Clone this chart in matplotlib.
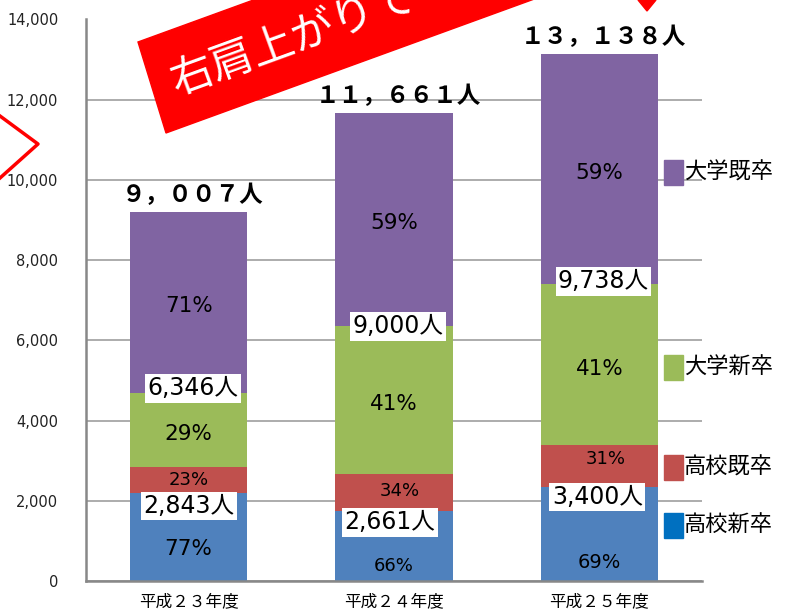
import matplotlib
matplotlib.use('Agg')
import matplotlib.pyplot as plt
from matplotlib.patches import Polygon, Rectangle
from matplotlib.lines import Line2D
from matplotlib.ticker import FuncFormatter

plt.rcParams['font.family'] = ['Noto Sans CJK JP', 'DejaVu Sans']
LAT = ['DejaVu Sans', 'Noto Sans CJK JP']   # wide latin digits, CJK fallback for 人

# data
categories = ['平成２３年度', '平成２４年度', '平成２５年度']
hs_new = [2189, 1756, 2346]       # 高校新卒
hs_grad = [654, 905, 1054]        # 高校既卒
univ_new = [1840, 3690, 3993]     # 大学新卒
univ_grad = [4506, 5310, 5745]    # 大学既卒
pct_hs_new = ['77%', '66%', '69%']
pct_hs_grad = ['23%', '34%', '31%']
pct_univ_new = ['29%', '41%', '41%']
pct_univ_grad = ['71%', '59%', '59%']
hs_total_labels = ['2,843人', '2,661人', '3,400人']
univ_total_labels = ['6,346人', '9,000人', '9,738人']
total_labels = ['９，００７人', '１１，６６１人', '１３，１３８人']

c_blue = '#4F81BD'
c_red = '#C0504D'
c_green = '#9BBB59'
c_purple = '#8064A2'

fig = plt.figure(figsize=(7.92, 6.14), dpi=100)
ax = fig.add_axes([86/792, 1-581/614, 616/792, 561.5/614])

x = list(range(len(categories)))
w = 0.57
b1 = hs_new
b2 = [a+b for a, b in zip(b1, hs_grad)]
b3 = [a+b for a, b in zip(b2, univ_new)]
tops = [a+b for a, b in zip(b3, univ_grad)]

ax.bar(x, hs_new, w, color=c_blue, zorder=3)
ax.bar(x, hs_grad, w, bottom=b1, color=c_red, zorder=3)
ax.bar(x, univ_new, w, bottom=b2, color=c_green, zorder=3)
ax.bar(x, univ_grad, w, bottom=b3, color=c_purple, zorder=3)

ax.set_xlim(-0.5, 2.5)
ax.set_ylim(0, 14000)
ax.set_yticks(range(0, 14001, 2000))
ax.yaxis.set_major_formatter(FuncFormatter(lambda v, p: f'{int(v):,}'))
ax.set_xticks(x)
ax.set_xticklabels(categories, fontsize=12)
for t in ax.get_yticklabels():
    t.set_family(LAT)
ax.tick_params(axis='y', length=0, pad=20, labelsize=10.5, labelcolor='#222222')
ax.tick_params(axis='x', length=0, pad=9)
ax.grid(axis='y', color='#A6A6A6', linewidth=1.3, zorder=0)
for s in ['top', 'right']:
    ax.spines[s].set_visible(False)
for s in ['left', 'bottom']:
    ax.spines[s].set_color('#888888')
    ax.spines[s].set_linewidth(1.8)
    ax.spines[s].set_zorder(4)

# percentage labels
pct_blue_y = [800, 370, 450]
pct_blue_fs = [15.5, 13, 14]
pct_red_dy = [0, 30, 160]
pct_red_fs = [13, 13, 13]
for i in x:
    ax.text(i, pct_blue_y[i], pct_hs_new[i], ha='center', va='center',
            fontsize=pct_blue_fs[i], family=LAT, zorder=5)
    ax.text(i + (0.03 if i else 0), b1[i] + hs_grad[i]/2 + pct_red_dy[i], pct_hs_grad[i],
            ha='center', va='center', fontsize=pct_red_fs[i], family=LAT, zorder=5)
    ax.text(i, b2[i] + univ_new[i]/2 - 100, pct_univ_new[i], ha='center', va='center',
            fontsize=15.5, family=LAT, zorder=5)
    ax.text(i, b3[i] + univ_grad[i]/2 - 90, pct_univ_grad[i], ha='center', va='center',
            fontsize=15.5, family=LAT, zorder=5)

# boxed subtotal labels
hs_dy = [-320, -290, -250]
univ_dy = [125, 0, 80]
hs_dx = [0, -0.02, -0.01]
for i in x:
    ax.text(i + hs_dx[i], b2[i] - hs_grad[i] + hs_dy[i], hs_total_labels[i],
            ha='center', va='center', fontsize=17, family=LAT, zorder=6,
            bbox=dict(boxstyle='square,pad=0.1', fc='white', ec='none'))
    ax.text(i + 0.02, b3[i] + univ_dy[i], univ_total_labels[i], ha='center', va='center',
            fontsize=17, family=LAT, zorder=6,
            bbox=dict(boxstyle='square,pad=0.1', fc='white', ec='none'))

# totals above bars
for i in x:
    ax.text(i + 0.02, tops[i] + 130, total_labels[i], ha='center', va='bottom',
            fontsize=17, fontweight='bold', zorder=6)

# legend as separate labels beside the segments
leg_items = [('大学既卒', c_purple, 172), ('大学新卒', c_green, 367),
             ('高校既卒', c_red, 467), ('高校新卒', '#0070C0', 525)]
for name, col, py in leg_items:
    fig.patches.append(Rectangle((664/792, 1-(py+12.5)/614), 19/792, 25/614,
                                 transform=fig.transFigure, color=col))
    fig.text(684/792, 1-py/614, name, ha='left', va='center', fontsize=16)

# red banner
def px(p):
    return (p[0]/792, 1-p[1]/614)

banner = [(138, 42), (166, 133), (166+700*0.94, 133-700*0.342), (138+700*0.94, 42-700*0.342)]
fig.patches.append(Polygon([px(p) for p in banner], closed=True, transform=fig.transFigure,
                           color='#FF0000', zorder=10))
fig.text(173/792, 1-84/614, '右肩上がりで', color='white', fontsize=31, rotation=20,
         rotation_mode='anchor', ha='left', va='center', zorder=11)

# arrow head at top
fig.patches.append(Polygon([px((638, 0)), px((656, 0)), px((647, 11))], closed=True,
                           transform=fig.transFigure, color='#FF0000', zorder=10))
# chevron at left
fig.lines.append(Line2D([0, 38/792, 0], [1-116/614, 1-144/614, 1-178/614],
                        transform=fig.transFigure, color='#FF0000', linewidth=2.5))

fig.savefig('out.png', dpi=100)
